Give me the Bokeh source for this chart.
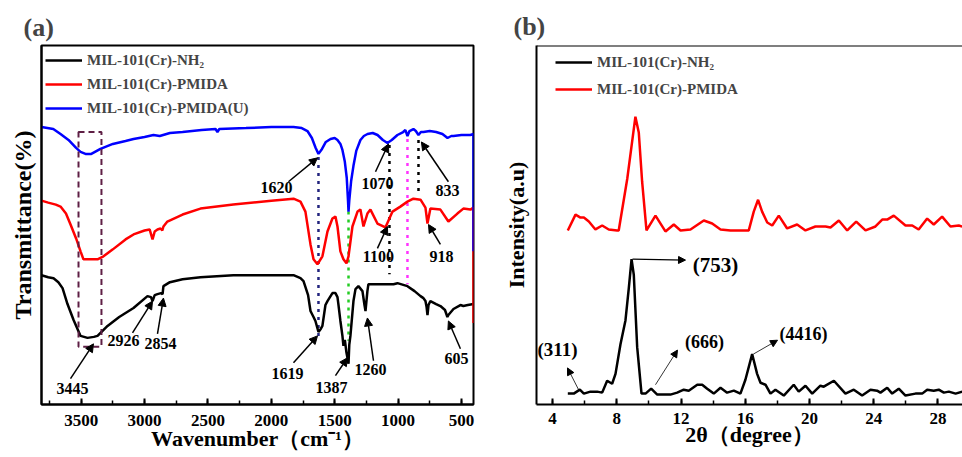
from bokeh.plotting import figure
from bokeh.models import (Range1d, SingleIntervalTicker, FixedTicker, Legend, LegendItem,
                          Label, Arrow, NormalHead, BoxAnnotation, Span)
from bokeh.layouts import row
from bokeh.embed import file_html
from bokeh.resources import INLINE

FONT = "Liberation Serif"

# ---------------- (a) FTIR data (transmittance, offset, a.u.) ----------------
ftir_black_wn = [3813, 3760, 3718, 3680, 3647, 3608, 3560, 3505, 3450, 3400, 3371, 3292, 3200, 3087,
                 2977, 2950, 2937, 2920, 2898, 2870, 2858, 2851, 2800, 2700, 2559, 2300, 2000, 1825,
                 1770, 1746, 1710, 1691, 1667, 1652, 1628, 1610, 1597, 1573, 1557, 1518, 1494, 1478,
                 1470, 1455, 1439, 1431, 1420, 1407, 1395, 1391, 1385, 1376, 1352, 1336, 1313, 1281,
                 1265, 1257, 1242, 1234, 1194, 1163, 1100, 1036, 1005, 926, 870, 823, 800, 784, 775,
                 768, 760, 745, 700, 666, 630, 611, 603, 563, 508, 485, 450, 405]
ftir_black_t = [130, 128, 127, 123, 117, 101, 85, 69, 67, 68, 69, 79, 88, 97,
                109, 108, 104, 110, 111, 112, 111, 119, 123, 126, 128, 130, 130, 130,
                127, 124, 110, 94, 88, 84, 73, 76, 79, 100, 104, 112, 112, 108,
                100, 84, 69, 59, 65, 52, 44, 41, 60, 69, 104, 116, 119, 114,
                100, 94, 114, 121, 121, 121, 121, 121, 122, 119, 114, 109, 107, 104, 98,
                90, 100, 104, 101, 99, 95, 88, 90, 96, 100, 99, 100, 101]

ftir_red_wn = [3813, 3760, 3700, 3663, 3620, 3584, 3540, 3505, 3482, 3420, 3371, 3324, 3250, 3150,
               3087, 3000, 2960, 2937, 2920, 2898, 2874, 2860, 2851, 2820, 2700, 2559, 2300, 2000,
               1825, 1770, 1731, 1691, 1667, 1636, 1597, 1557, 1518, 1494, 1478, 1455, 1431, 1407,
               1391, 1360, 1320, 1297, 1273, 1242, 1218, 1163, 1100, 1044, 982, 926, 879, 823,
               784, 768, 745, 666, 603, 532, 485, 429, 405, 405]
ftir_red_t = [205, 203, 201, 199, 192, 181, 167, 154, 146, 146, 146, 149, 156, 166,
              171, 175, 176, 166, 174, 176, 177, 175, 179, 184, 191, 197, 201, 205,
              207, 204, 194, 161, 146, 141, 149, 174, 187, 189, 179, 154, 146, 142,
              149, 179, 194, 196, 179, 192, 196, 182, 178, 194, 199, 204, 207, 206,
              198, 182, 197, 196, 184, 192, 197, 196, 198, 82]

ftir_blue_wn = [3813, 3720, 3663, 3600, 3540, 3505, 3466, 3420, 3348, 3250, 3150, 3087, 3000, 2930,
                2880, 2800, 2700, 2550, 2440, 2425, 2410, 2200, 2000, 1825, 1760, 1715, 1680, 1650,
                1628, 1600, 1570, 1533, 1500, 1478, 1455, 1439, 1420, 1405, 1395, 1391, 1385, 1370,
                1352, 1330, 1297, 1270, 1241, 1200, 1162, 1120, 1084, 1050, 1005, 960, 942, 926,
                910, 879, 860, 839, 820, 800, 750, 700, 650, 610, 580, 563, 500, 430, 405, 405]
ftir_blue_t = [279, 277, 272, 266, 258, 254, 252, 252, 257, 262, 265, 267, 269, 271,
               270, 273, 274, 276, 277, 274, 277, 278, 279, 279, 278, 275, 268, 258,
               252, 257, 264, 267, 268, 266, 262, 256, 244, 228, 205, 194, 205, 225,
               240, 255, 266, 270, 272, 273, 271, 266, 263, 266, 271, 274, 276, 270,
               275, 277, 275, 271, 274, 274, 275, 274, 272, 268, 270, 270, 271, 271, 272, 154]

ftir_names = ["MIL-101(Cr)-NH\u2082", "MIL-101(Cr)-PMIDA", "MIL-101(Cr)-PMIDA(U)"]

# guide lines at characteristic bands
guide_wn = [1628, 1391, 1068, 926, 839]
guide_top = [249, 194, 261, 267, 266]
guide_bottom = [69, 64, 131, 121, 211]
guide_colors = ["#22237e", "#22cc22", "#000000", "#ff33ff", "#000000"]

# O-H band box (3445)
box_wn = [3521, 3340]
box_t = [58, 274]

# band labels: text, label position, arrow start, arrow end (wavenumber, t)
ftir_notes = [
    ("1620", 1959, 218, 1865, 224, 1636, 248),
    ("1070", 1163, 222, 1178, 234, 1076, 262),
    ("833", 611, 215, 603, 224, 816, 264),
    ("1100", 1155, 149, 1163, 157, 1084, 179),
    ("918", 658, 149, 666, 161, 760, 181),
    ("3445", 3568, 16, 3584, 26, 3403, 61),
    ("2926", 3166, 64, 3095, 72, 2937, 104),
    ("2854", 2874, 61, 2898, 71, 2851, 107),
    ("1619", 1873, 31, 1825, 42, 1636, 69),
    ("1387", 1525, 17, 1494, 29, 1399, 47),
    ("1260", 1218, 35, 1194, 44, 1242, 87),
    ("605", 540, 46, 508, 56, 603, 84),
]
ftir_xlabel = "Wavenumber\uff08cm\u207b\u00b9\uff09"
ftir_ylabel = "Transmittance(%)"

# ---------------- (b) XRD data ----------------
xrd_black_x = [4.95, 5.32, 5.70, 5.95, 6.36, 6.78, 7.09, 7.40, 7.71, 7.92, 8.23, 8.54, 8.75, 8.92,
               9.06, 9.27, 9.54, 9.79, 10.14, 10.52, 11.34, 11.76, 12.17, 12.48, 13.01, 13.32,
               13.63, 14.04, 14.46, 14.87, 15.29, 15.70, 16.01, 16.43, 16.74, 16.95, 17.26, 17.57,
               17.88, 18.40, 19.02, 19.33, 19.75, 20.17, 20.68, 20.89, 21.52, 22.24, 22.76, 23.28,
               23.80, 24.21, 24.42, 24.84, 25.15, 25.56, 25.98, 26.60, 27.02, 27.33, 27.74, 28.05,
               28.37, 28.68, 29.10, 29.51]
xrd_black_y = [11, 11, 15, 11, 13, 13, 12, 24, 21, 31, 61, 85, 118, 147,
               131, 58, 11, 11, 16, 10, 10, 12, 15, 14, 20, 20,
               16, 11, 17, 12, 14, 11, 25, 51, 31, 22, 20, 11,
               15, 9, 20, 13, 19, 11, 19, 18, 24, 11, 15, 9,
               15, 14, 12, 17, 11, 16, 9, 11, 11, 15, 14, 15,
               12, 13, 11, 13]

xrd_red_x = [4.95, 5.43, 5.74, 5.95, 6.26, 6.67, 7.09, 7.50, 8.02, 8.12, 8.65, 9.16, 9.37, 9.58,
             9.85, 10.41, 11.03, 11.55, 11.97, 12.59, 13.42, 13.94, 14.46, 15.08, 16.01, 16.22,
             16.53, 16.80, 17.05, 17.37, 17.68, 18.09, 18.61, 19.23, 19.75, 20.37, 21.00, 21.31,
             21.83, 22.35, 22.91, 23.49, 24.11, 24.53, 24.84, 25.25, 25.98, 26.40, 26.80, 27.33,
             27.74, 28.26, 28.78, 29.30, 29.51]
xrd_red_y = [176, 192, 189, 189, 185, 177, 181, 177, 176, 176, 228, 291, 275, 225,
             176, 191, 175, 182, 176, 177, 186, 183, 177, 176, 176, 176,
             195, 207, 195, 184, 181, 191, 178, 182, 176, 180, 180, 179,
             186, 176, 185, 176, 180, 187, 187, 191, 181, 181, 177, 188,
             182, 190, 180, 181, 180]

xrd_names = ["MIL-101(Cr)-NH\u2082", "MIL-101(Cr)-PMIDA"]

xrd_notes = [
    ("(753)", 14.15, 141, 8.98, 147, 12.28, 146, "21px", 1.3),
    ("(311)", 4.31, 56, 5.62, 15, 4.93, 37, "19px", 0.8),
    ("(666)", 13.46, 63, 10.41, 20, 11.78, 55, "18px", 0.8),
    ("(4416)", 19.63, 71, 16.51, 51, 18.01, 65, "18px", 0.8),
]
xrd_xlabel = "2\u03b8\uff08degree\uff09"
xrd_ylabel = "Intensity(a.u)"


def style(p):
    p.grid.visible = False
    for ax in p.axis:
        ax.axis_line_width = 2
        ax.axis_line_color = "black"
        ax.major_tick_line_width = 2
        ax.minor_tick_line_width = 1.5
        ax.major_tick_in = 6
        ax.major_tick_out = 0
        ax.minor_tick_in = 4
        ax.minor_tick_out = 0
        ax.major_label_text_font = FONT
        ax.major_label_text_font_style = "bold"
        ax.major_label_text_font_size = "17px"
        ax.major_label_text_color = "black"
        ax.axis_label_text_font = FONT
        ax.axis_label_text_font_style = "bold"
        ax.axis_label_text_color = "black"
    p.title.text_font = FONT
    p.title.text_font_style = "bold"
    p.title.text_font_size = "26px"
    p.title.align = "left"


# ---------------- panel (a) ----------------
pa = figure(width=490, height=457, x_range=Range1d(3813, 405), y_range=Range1d(0, 361),
            output_backend="svg", toolbar_location=None, title="(a)",
            min_border_left=41, min_border_right=17, min_border_top=43, min_border_bottom=53)
style(pa)
pa.outline_line_color = "black"
pa.outline_line_width = 2
pa.outline_line_alpha = 1
pa.title.offset = -18
pa.title.standoff = 7
pa.xaxis.ticker = SingleIntervalTicker(interval=500, num_minor_ticks=2)
pa.xaxis.axis_label = ftir_xlabel
pa.xaxis.axis_label_text_font_size = "22px"
pa.xaxis.major_label_standoff = 10
pa.xaxis.axis_label_standoff = -3
pa.yaxis.ticker = FixedTicker(ticks=[])
pa.yaxis.axis_label = ftir_ylabel
pa.yaxis.axis_label_text_font_size = "24px"
pa.yaxis.major_label_standoff = 0
pa.yaxis.axis_label_standoff = 6

pa.segment(x0=guide_wn, y0=guide_top, x1=guide_wn, y1=guide_bottom, line_color=guide_colors,
           line_width=2.5, line_dash="3 5")
pa.add_layout(BoxAnnotation(left=box_wn[0], right=box_wn[1], bottom=box_t[0], top=box_t[1],
                            fill_alpha=0, line_color="#5e1f45", line_alpha=1, line_width=2,
                            line_dash="6 4"))

rb = pa.line(ftir_black_wn, ftir_black_t, line_color="black", line_width=2.5)
rr = pa.line(ftir_red_wn, ftir_red_t, line_color="#ff0000", line_width=2.5)
rbl = pa.line(ftir_blue_wn, ftir_blue_t, line_color="#0000ff", line_width=2.5)

for txt, lx, ly, x0, y0, x1, y1 in ftir_notes:
    pa.add_layout(Arrow(end=NormalHead(size=8, fill_color="black", line_color="black"),
                        x_start=x0, y_start=y0, x_end=x1, y_end=y1,
                        line_color="black", line_width=1.5))
    pa.add_layout(Label(x=lx, y=ly, text=txt, text_font=FONT, text_font_style="bold",
                        text_font_size="16px", text_align="center", text_baseline="middle",
                        text_color="black"))

leg_a = Legend(items=[LegendItem(label=ftir_names[0], renderers=[rb]),
                      LegendItem(label=ftir_names[1], renderers=[rr]),
                      LegendItem(label=ftir_names[2], renderers=[rbl])],
               location=(4, 286), padding=0, margin=0, spacing=4,
               glyph_width=37, glyph_height=20, label_height=20, label_standoff=5,
               label_text_font=FONT, label_text_font_style="bold", label_text_font_size="15px",
               border_line_alpha=0, background_fill_alpha=0)
pa.add_layout(leg_a)

# ---------------- panel (b) ----------------
pb = figure(width=472, height=457, x_range=Range1d(3, 29.53), y_range=Range1d(0, 363),
            output_backend="svg", toolbar_location=None, title="(b)",
            min_border_left=46, min_border_right=0, min_border_top=45, min_border_bottom=49)
style(pb)
pb.outline_line_color = None
pb.title.offset = -23
pb.title.standoff = 9
pb.xaxis.ticker = SingleIntervalTicker(interval=4, num_minor_ticks=2)
pb.xaxis.axis_label = xrd_xlabel
pb.xaxis.axis_label_text_font_size = "22px"
pb.xaxis.major_label_standoff = 8
pb.xaxis.axis_label_standoff = -5
pb.yaxis.ticker = FixedTicker(ticks=[])
pb.yaxis.axis_label = xrd_ylabel
pb.yaxis.axis_label_text_font_size = "22px"
pb.yaxis.major_label_standoff = 0
pb.yaxis.axis_label_standoff = 8
pb.add_layout(Span(location=363, dimension="width", line_color="black", line_width=2))

xb = pb.line(xrd_black_x, xrd_black_y, line_color="black", line_width=2.5)
xr = pb.line(xrd_red_x, xrd_red_y, line_color="#ff0000", line_width=2.5)

for txt, lx, ly, x0, y0, x1, y1, fs, lw in xrd_notes:
    pb.add_layout(Arrow(end=NormalHead(size=7, fill_color="black", line_color="black"),
                        x_start=x0, y_start=y0, x_end=x1, y_end=y1,
                        line_color="black", line_width=lw))
    pb.add_layout(Label(x=lx, y=ly, text=txt, text_font=FONT, text_font_style="bold",
                        text_font_size=fs, text_align="center", text_baseline="middle",
                        text_color="black"))

leg_b = Legend(items=[LegendItem(label=xrd_names[0], renderers=[xb]),
                      LegendItem(label=xrd_names[1], renderers=[xr])],
               location=(19, 305), padding=0, margin=0, spacing=7,
               glyph_width=37, glyph_height=20, label_height=20, label_standoff=5,
               label_text_font=FONT, label_text_font_style="bold", label_text_font_size="15px",
               border_line_alpha=0, background_fill_alpha=0)
pb.add_layout(leg_b)

layout = row(pa, pb)
open("out.html", "w").write(file_html(layout, INLINE))
